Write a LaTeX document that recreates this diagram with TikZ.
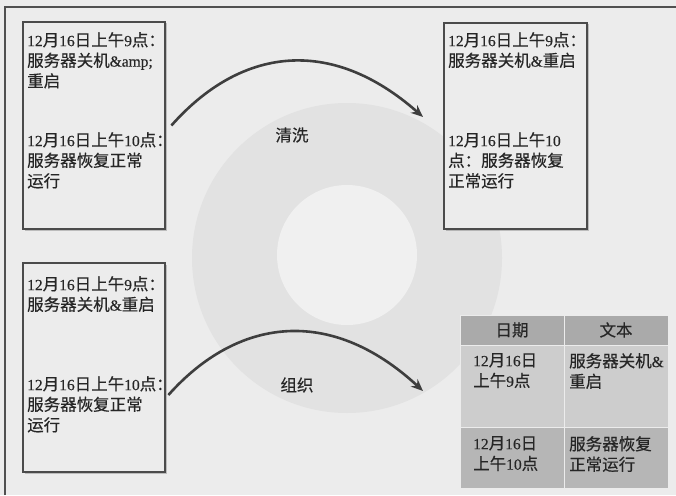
\documentclass[tikz,border=0pt]{standalone}
\usepackage{fontspec}
\setmainfont{Liberation Serif}[Scale=0.94,FakeBold=0.3]
\newfontfamily\cjkfont{Noto Sans CJK SC}[FakeBold=0.4]
\newfontfamily\latfont{Liberation Serif}[Scale=0.94,FakeBold=0.3]
\usetikzlibrary{arrows.meta,shadows}
\XeTeXinterchartokenstate=1
\newXeTeXintercharclass\cjkclass
\newcount\cjkc
\cjkc="4E00
\loop \XeTeXcharclass\cjkc=\cjkclass \advance\cjkc by 1 \ifnum\cjkc<"A000 \repeat
\cjkc="3000
\loop \XeTeXcharclass\cjkc=\cjkclass \advance\cjkc by 1 \ifnum\cjkc<"3040 \repeat
\cjkc="FF00
\loop \XeTeXcharclass\cjkc=\cjkclass \advance\cjkc by 1 \ifnum\cjkc<"FFF0 \repeat
\XeTeXinterchartoks 0 \cjkclass = {\cjkfont}
\XeTeXinterchartoks 4095 \cjkclass = {\cjkfont}
\XeTeXinterchartoks \cjkclass 0 = {\latfont}
\definecolor{paper}{RGB}{236,236,236}
\definecolor{ringc}{RGB}{226,226,226}
\definecolor{innerc}{RGB}{240,240,240}
\definecolor{boxc}{RGB}{75,75,75}
\definecolor{ink}{RGB}{38,38,38}
\definecolor{arrc}{RGB}{62,62,62}
\definecolor{hdc}{RGB}{170,170,170}
\definecolor{rowa}{RGB}{205,205,205}
\definecolor{rowb}{RGB}{182,182,182}
\definecolor{framec}{RGB}{80,80,80}
\begin{document}
\begin{tikzpicture}[x=1pt,y=-1pt,
  font=\fontsize{16.5}{20.5}\selectfont,
  box/.style={draw=boxc, line width=2.8pt, fill=paper, inner sep=0pt, rectangle,
    drop shadow={shadow xshift=1.5pt, shadow yshift=-1.5pt, fill=black, opacity=0.2}},
  txt/.style={anchor=north west, inner sep=0pt, align=left, text=ink},
  lbl/.style={inner sep=0pt, text=ink},
  cell/.style={inner sep=0pt, draw=white!85!gray, line width=0.8pt, rectangle, text=ink},
  conn/.style={draw=arrc, line width=2.6pt, -{Stealth[length=12pt,width=10pt]}}]
\useasboundingbox (0,0) rectangle (676,495);
\fill[paper] (0,0) rectangle (676,495);
% faint background ring
\fill[ringc] (347,258) circle[radius=155];
\fill[innerc] (347,255) circle[radius=70];
% page frame
\draw[framec, line width=2pt] (5,495) -- (5,7) -- (676,7);
% boxes
\node[box, minimum width=142pt, minimum height=207pt] (tl) at (94,125.5) {};
\node[box, minimum width=143pt, minimum height=206pt] (tr) at (515.5,126) {};
\node[box, minimum width=142pt, minimum height=209pt] (bl) at (94,367.5) {};
% box texts
\node[txt] (tla) at (27,32) {12月16日上午9点：\\服务器关机\&amp;\\重启};
\node[txt] (tlb) at (27,132) {12月16日上午10点：\\服务器恢复正常\\运行};
\node[txt] (tra) at (448,32) {12月16日上午9点：\\服务器关机\&重启};
\node[txt] (trb) at (448,132) {12月16日上午10\\点：服务器恢复\\正常运行};
\node[txt] (bla) at (27,276) {12月16日上午9点：\\服务器关机\&重启};
\node[txt] (blb) at (27,376) {12月16日上午10点：\\服务器恢复正常\\运行};
% table
\node[cell, fill=hdc, minimum width=104pt, minimum height=30pt] (ha) at (512,330) {日期};
\node[cell, fill=hdc, minimum width=104pt, minimum height=30pt] (hb) at (616,330) {文本};
\node[cell, fill=rowa, minimum width=104pt, minimum height=82pt] (ca) at (512,386) {};
\node[cell, fill=rowa, minimum width=104pt, minimum height=82pt] (cb) at (616,386) {};
\node[cell, fill=rowb, minimum width=104pt, minimum height=61pt] (da) at (512,457.5) {};
\node[cell, fill=rowb, minimum width=104pt, minimum height=61pt] (db) at (616,457.5) {};
\node[txt] (cat) at (473,353) {12月16日\\上午9点};
\node[txt] (cbt) at (569,353) {服务器关机\&\\重启};
\node[txt] (dat) at (473,436) {12月16日\\上午10点};
\node[txt] (dbt) at (569,436) {服务器恢复\\正常运行};
% arrows
\coordinate (s1) at ([xshift=5pt]tl.east);
\coordinate (e1) at (423,117);
\coordinate (s2) at ([xshift=2pt,yshift=-27.5pt]bl.east);
\coordinate (e2) at (423,391);
\draw[conn] (s1) .. controls (240,48) and (330,35) .. (e1);
\draw[conn] (s2) .. controls (237,318) and (330,305) .. (e2);
% labels
\node[lbl] (wash) at (292,135) {清洗};
\node[lbl] (org) at (297,385) {组织};
\end{tikzpicture}
\end{document}
